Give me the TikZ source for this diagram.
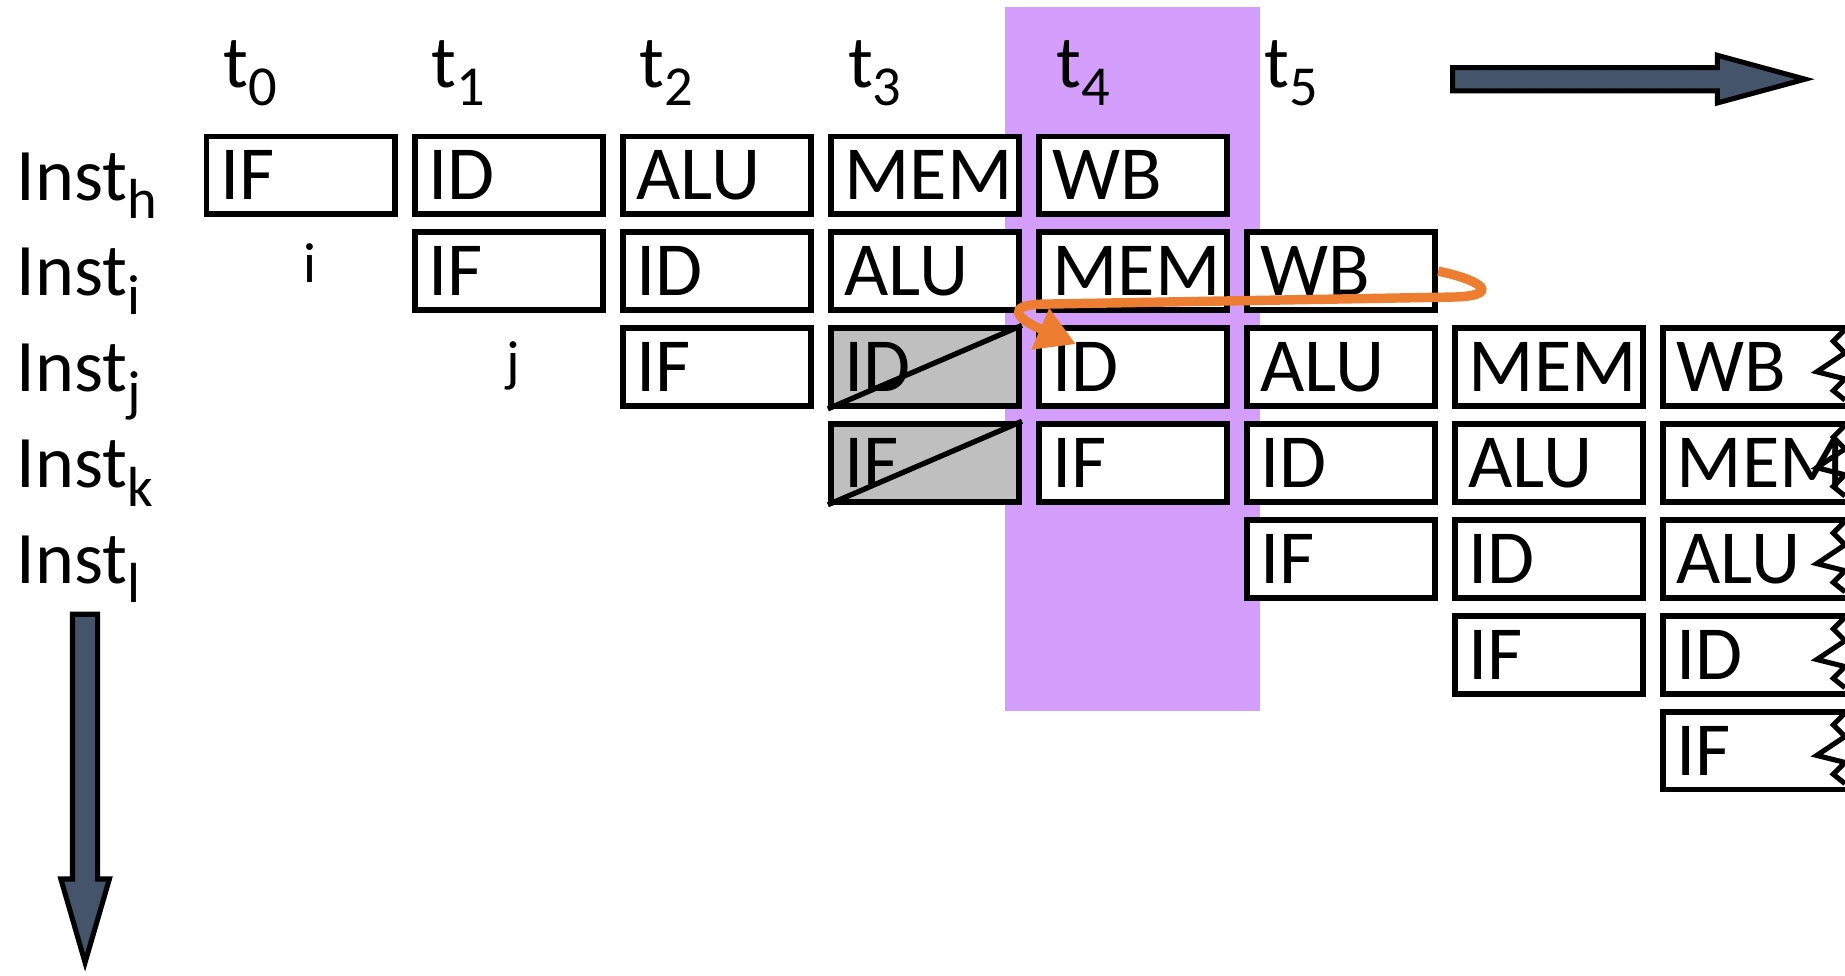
\documentclass[tikz,border=0pt]{standalone}
\usepackage{fontspec}
\setmainfont{Carlito}
\usetikzlibrary{arrows.meta,calc}
\definecolor{purp}{HTML}{D49FFC}
\definecolor{org}{HTML}{ED7D31}
\definecolor{slate}{HTML}{44546A}
\definecolor{grayfill}{HTML}{BFBFBF}
\newcommand\mysub[1]{\raisebox{-16pt}{\fontsize{48}{50}\selectfont #1}}
\begin{document}
\begin{tikzpicture}[x=1pt,y=-1pt,
  stage/.style={draw=black, line width=5pt, fill=white, minimum width=160pt,
    minimum height=66pt, inner xsep=0pt, inner ysep=0pt, text width=137pt,
    align=left, text height=41.5pt, text depth=0pt, font=\fontsize{65}{70}\selectfont},
  stall/.style={stage, fill=grayfill},
  lab/.style={inner sep=0pt, font=\fontsize{63}{70}\selectfont, anchor=base west},
  smalllab/.style={inner sep=0pt, font=\fontsize{48}{55}\selectfont, anchor=base},
  bigarrow/.style={fill=slate, draw=black, line width=4.3pt},
  zz/.style={draw=black, line width=4.3pt},
  fwd/.style={draw=org, line width=8pt, -{Triangle[length=33pt,width=36pt]}}]
\useasboundingbox (0,0) rectangle (1568,829);
% highlighted cycle
\fill[purp] (854,6) rectangle (1071,604);
% time labels
\node[lab] (t0) at (190,74) {t\mysub{0}};
\node[lab] (t1) at (366.85,74) {t\mysub{1}};
\node[lab] (t2) at (543.7,74) {t\mysub{2}};
\node[lab] (t3) at (720.55,74) {t\mysub{3}};
\node[lab] (t4) at (897.4,74) {t\mysub{4}};
\node[lab] (t5) at (1074.25,74) {t\mysub{5}};
% instruction labels
\node[lab] (Ih) at (14,170) {Inst\mysub{h}};
\node[lab] (Ii) at (14,251.5) {Inst\mysub{i}};
\node[lab] (Ij) at (14,333) {Inst\mysub{j}};
\node[lab] (Ik) at (14,414.5) {Inst\mysub{k}};
\node[lab] (Il) at (14,496) {Inst\mysub{l}};
\node[smalllab] (li) at (263.5,240) {i};
\node[smalllab] (lj) at (436,323) {j};
% Inst h
\node[stage] (h0) at (255.5,149) {IF};
\node[stage] (h1) at (432.35,149) {ID};
\node[stage] (h2) at (609.2,149) {ALU};
\node[stage] (h3) at (786.05,149) {MEM};
\node[stage] (h4) at (962.9,149) {WB};
% Inst i
\node[stage] (i1) at (432.35,230.5) {IF};
\node[stage] (i2) at (609.2,230.5) {ID};
\node[stage] (i3) at (786.05,230.5) {ALU};
\node[stage] (i4) at (962.9,230.5) {MEM};
\node[stage] (i5) at (1139.75,230.5) {WB};
% Inst j
\node[stage] (j2) at (609.2,312) {IF};
\node[stall] (j3) at (786.05,312) {ID};
\node[stage] (j4) at (962.9,312) {ID};
\node[stage] (j5) at (1139.75,312) {ALU};
\node[stage] (j6) at (1316.6,312) {MEM};
\node[stage] (j7) at (1493.45,312) {WB};
% Inst k
\node[stall] (k3) at (786.05,393.5) {IF};
\node[stage] (k4) at (962.9,393.5) {IF};
\node[stage] (k5) at (1139.75,393.5) {ID};
\node[stage] (k6) at (1316.6,393.5) {ALU};
\node[stage] (k7) at (1493.45,393.5) {MEM};
% Inst l
\node[stage] (l5) at (1139.75,475) {IF};
\node[stage] (l6) at (1316.6,475) {ID};
\node[stage] (l7) at (1493.45,475) {ALU};
% later
\node[stage] (m6) at (1316.6,556.5) {IF};
\node[stage] (m7) at (1493.45,556.5) {ID};
\node[stage] (n7) at (1493.45,638) {IF};
% stall crosses
\draw[line width=4.5pt] (j3.south west) -- (j3.north east);
\draw[line width=4.5pt] (k3.south west) -- (k3.north east);
% torn edges
\foreach \cy in {312,393.5,475,556.5,638}{
  \draw[zz] (1568,\cy-32) -- (1558,\cy-22) -- (1568,\cy-12) -- (1544,\cy+4)
    -- (1568,\cy+10) -- (1558,\cy+20) -- (1568,\cy+28);
}
% time arrow
\filldraw[bigarrow] (1234.5,57.5) -- (1459.5,57.5) -- (1459.5,47) -- (1534,67.3)
  -- (1459.5,87.5) -- (1459.5,77.2) -- (1234.5,77.2) -- cycle;
% instruction arrow
\filldraw[bigarrow] (61.6,522) -- (83,522) -- (83,747) -- (93,747) -- (72.3,818)
  -- (51.7,747) -- (61.6,747) -- cycle;
% forwarding arrow
\draw[fwd] (i5.east) .. controls (1260,238) and (1278,252) .. (1232,252.5)
  -- (885,258.5) .. controls (856,259.5) and (862,270) .. ($(j4.north west)+(34,16)$);
\end{tikzpicture}
\end{document}
